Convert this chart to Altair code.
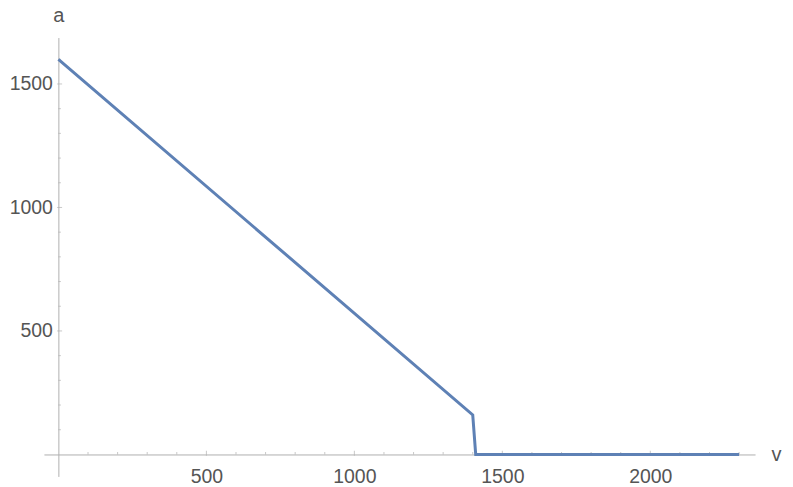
import altair as alt
import pandas as pd

v_vals = [0, 1400, 1410, 2300]
a_vals = [1600, 160, 0, 0]

x_major = [500, 1000, 1500, 2000]
y_major = [500, 1000, 1500]
x_minor = [t for t in range(100, 2400, 100) if t % 500 != 0]
y_minor = [t for t in range(100, 1700, 100) if t % 500 != 0]

X_DOMAIN = [-49, 2354]
Y_DOMAIN = [-89, 1688]

df = pd.DataFrame({"v": v_vals, "a": a_vals})
xt = pd.DataFrame({"t": x_major + x_minor, "s": [5] * len(x_major) + [2.5] * len(x_minor), "z": 0})
yt = pd.DataFrame({"t": y_major + y_minor, "s": [5] * len(y_major) + [2.5] * len(y_minor), "z": 0})

xs = alt.Scale(domain=X_DOMAIN, nice=False, zero=False)
ys = alt.Scale(domain=Y_DOMAIN, nice=False, zero=False)

label_style = dict(labelFont="Liberation Sans", labelFontSize=19.5, labelColor="#555555",
                   titleFont="Liberation Sans", titleFontSize=20, titleColor="#555555",
                   titleFontWeight="normal", domainColor="#b0b0b0", domainWidth=1,
                   ticks=False, grid=False, format="d")

line = alt.Chart(df).mark_line(color="#5E81B5", strokeWidth=3, strokeJoin="miter").encode(
    x=alt.X("v:Q", scale=xs,
            axis=alt.Axis(values=x_major, offset=-22, labelPadding=13, title="v",
                          titleAngle=0, titleX=734, titleY=0, titleAlign="center",
                          titleBaseline="middle", **label_style)),
    y=alt.Y("a:Q", scale=ys,
            axis=alt.Axis(values=y_major, offset=-14.5, labelPadding=6, title="a",
                          titleAngle=0, titleX=0, titleY=-22, titleAlign="center",
                          titleBaseline="middle", **label_style)),
)

xticks = alt.Chart(xt).mark_tick(orient="vertical", color="#b0b0b0", thickness=1, yOffset=-1.2).encode(
    x=alt.X("t:Q", scale=xs),
    y=alt.Y("z:Q", scale=ys),
    size=alt.Size("s:Q", scale=None, legend=None),
)
yticks = alt.Chart(yt).mark_tick(orient="horizontal", color="#b0b0b0", thickness=1, xOffset=1.2).encode(
    y=alt.Y("t:Q", scale=ys),
    x=alt.X("z:Q", scale=xs),
    size=alt.Size("s:Q", scale=None, legend=None),
)

chart = alt.layer(xticks, yticks, line).properties(
    width=713, height=440,
    autosize=alt.AutoSizeParams(type="none"),
    padding={"left": 36, "top": 29, "right": 30, "bottom": 10},
).configure_view(stroke=None)

chart.save("out.html", embed_options={"renderer": "svg", "actions": False})
